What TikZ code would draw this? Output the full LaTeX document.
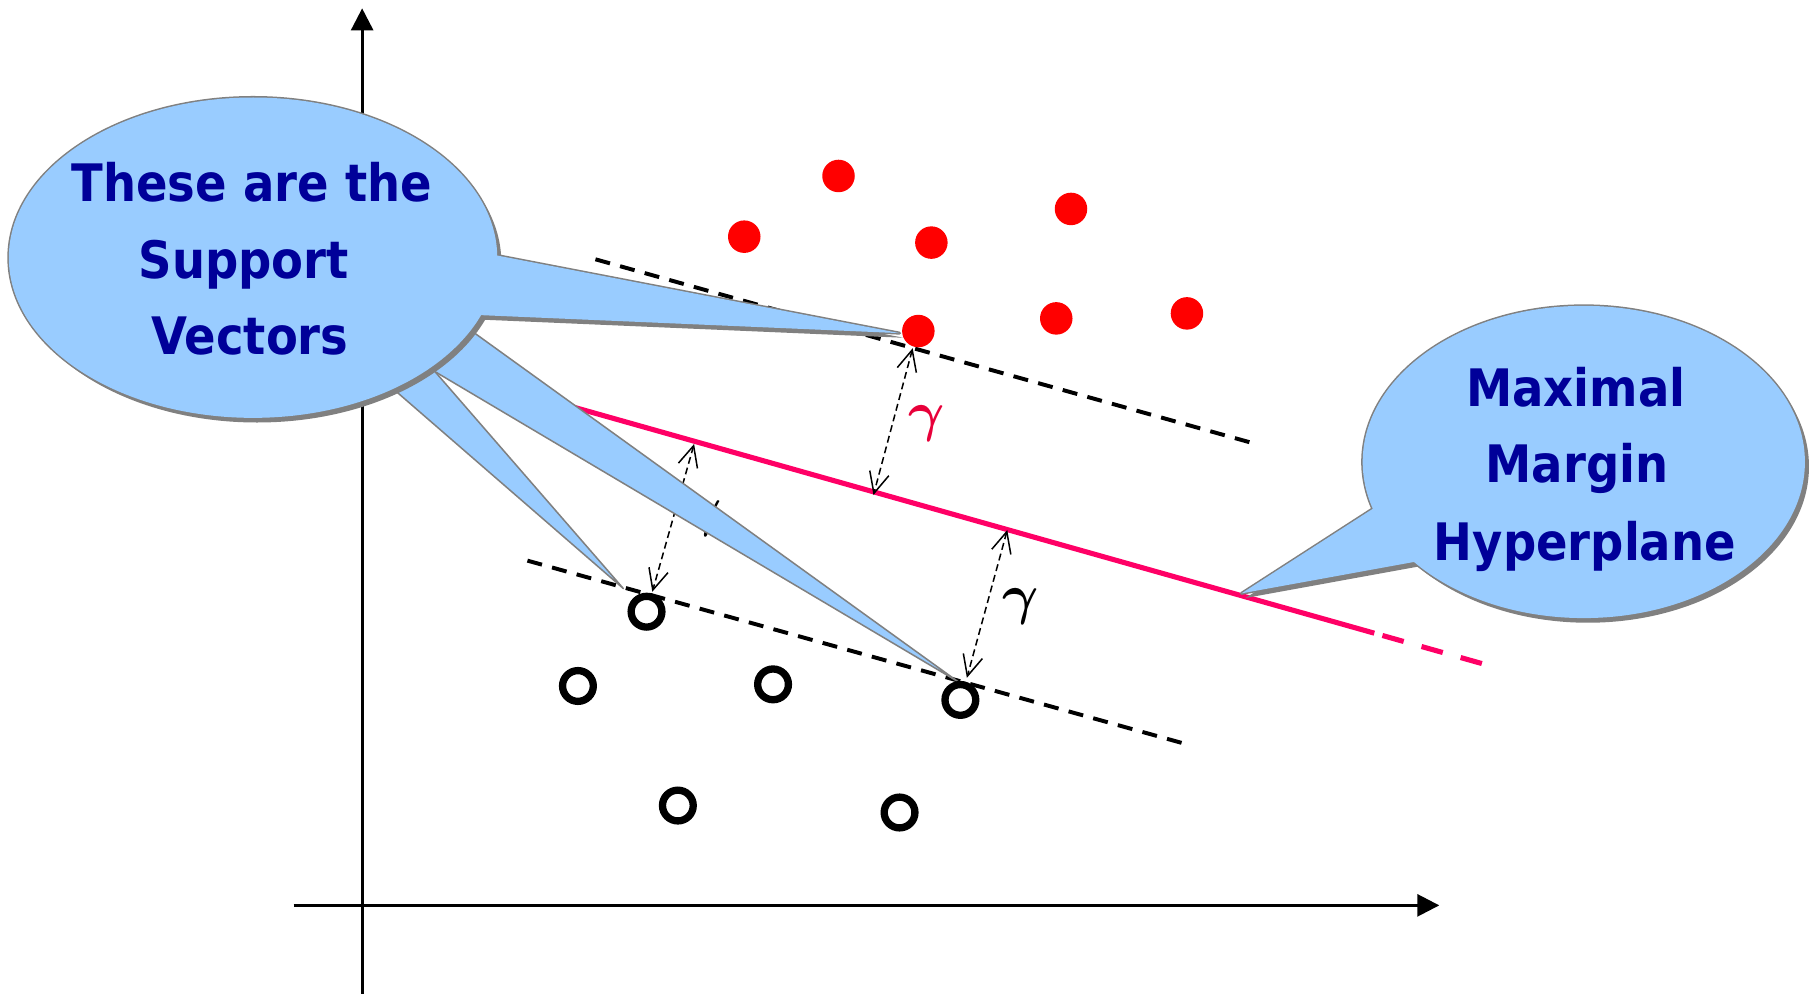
\documentclass[tikz,border=0pt]{standalone}
\usepackage{fontspec}
\setmainfont{DejaVu Sans Condensed}
\usetikzlibrary{arrows.meta,calc}
\definecolor{cofill}{HTML}{99CCFF}
\definecolor{coline}{HTML}{808080}
\definecolor{cotext}{HTML}{000099}
\definecolor{hyper}{HTML}{FF0066}
\definecolor{dotred}{HTML}{FF0000}
\definecolor{gred}{HTML}{E8003A}
\tikzset{
  axisline/.style={line width=2.4pt, -{Triangle[length=19pt,width=19pt]}},
  marginline/.style={line width=3.4pt, dash pattern=on 13pt off 9pt},
  hyperline/.style={draw=hyper, line width=4.4pt},
  gaparrow/.style={line width=1.3pt, dash pattern=on 6pt off 3.5pt,
     {Straight Barb[length=18pt,width=17pt]}-{Straight Barb[length=18pt,width=17pt]}},
  gam/.style={font=\boldmath, scale=4.8, inner sep=0pt},
  posdot/.style={circle, fill=dotred, minimum size=28pt, inner sep=0pt},
  negring/.style={circle, draw=black, line width=6.3pt, minimum size=26.5pt, inner sep=0pt},
  wedgepart/.style={fill=cofill, draw=coline, line width=1.3pt, line join=round},
  coshadow/.style={fill=coline},
  coborder/.style={draw=coline, line width=2.6pt, line join=round},
  cobody/.style={fill=cofill},
  cotxt/.style={text=cotext, font=\bfseries\fontsize{44.5}{44.5}\selectfont, inner sep=0pt, anchor=base}
}
\begin{document}
\begin{tikzpicture}[x=1pt,y=-1pt]
\useasboundingbox (0,0) rectangle (1568,856);
\fill[white] (0,0) rectangle (1568,856);

% axes
\coordinate (yb) at (312,856); \coordinate (yt) at (312,7.2);
\coordinate (xl) at (253,780); \coordinate (xr) at (1240,780);
\draw[axisline] (yb) -- (yt);
\draw[axisline] (xl) -- (xr);

% margin lines
\coordinate (m1a) at (513,223.4); \coordinate (m1b) at (1076.6,381);
\coordinate (m2a) at (454.4,483); \coordinate (m2b) at (1018,640);
\draw[marginline] (m1a) -- (m1b);
\draw[marginline] (m2a) -- (m2b);

% hyperplane
\coordinate (h0) at (485,348.2); \coordinate (h1) at (1184,545.5);
\coordinate (h2) at (1191,547.5); \coordinate (h3) at (1280,572.6);
\draw[hyperline] (h0) -- (h1);
\draw[hyperline, dash pattern=on 19pt off 16pt] (h2) -- (h3);

% margin arrows
\coordinate (g1a) at (786.3,300); \coordinate (g1b) at (752.5,426.5);
\coordinate (g2a) at (598,382.5); \coordinate (g2b) at (562,509.8);
\coordinate (g3a) at (867.8,456.6); \coordinate (g3b) at (833,584);
\draw[gaparrow] (g1a) -- (g1b);
\draw[gaparrow] (g2a) -- (g2b);
\draw[gaparrow] (g3a) -- (g3b);
\node[gam, text=gred] (gam1) at (798.7,364.5) {$\gamma$};
\node[gam] (gam2) at (879.4,522.7) {$\gamma$};
\node[gam] (gam3) at (606,447) {$\gamma$};

% left callout
\coordinate (Lc) at (218,222);
\coordinate (w1t) at (775,287); \coordinate (w1a) at (426,219.7); \coordinate (w1b) at (412,271.4);
\coordinate (w2t) at (825.4,587.3); \coordinate (w2a) at (409.2,287.2); \coordinate (w2b) at (374.8,320.2);
\coordinate (w3t) at (537,507); \coordinate (w3a) at (374.8,320.2); \coordinate (w3b) at (343.2,338.9);
\coordinate (w1A) at ($(w1t)!1.08!(w1a)$); \coordinate (w1B) at ($(w1t)!1.08!(w1b)$);
\coordinate (w2A) at ($(w2t)!1.06!(w2a)$); \coordinate (w2B) at ($(w2t)!1.06!(w2b)$);
\coordinate (w3A) at ($(w3t)!1.15!(w3a)$); \coordinate (w3B) at ($(w3t)!1.15!(w3b)$);

\path[wedgepart] (w2A) -- (w2t) -- (w2B) -- cycle;
\path[wedgepart] (w3A) -- (w3t) -- (w3B) -- cycle;

\begin{scope}[transform canvas={shift={(3.5pt,-4pt)}}]
  \fill[coshadow] (Lc) ellipse[x radius=210.4pt, y radius=138pt];
  \fill[coshadow] (w1A) -- (w1t) -- (w1B) -- cycle;
\end{scope}
\draw[coborder] (Lc) ellipse[x radius=210.4pt, y radius=138pt];
\draw[coborder] (w1A) -- (w1t) -- (w1B) -- cycle;
\fill[cobody] (Lc) ellipse[x radius=210.4pt, y radius=138pt];
\fill[cobody] (w1A) -- (w1t) -- (w1B) -- cycle;

\node[cotxt] (l1) at (217,173.7) {These are the};
\node[cotxt] (l2) at (210,239.7) {Support};
\node[cotxt] (l3) at (215.5,305.8) {Vectors};

% right callout
\coordinate (Rc) at (1364.5,398);
\coordinate (r1t) at (1069.6,511.2); \coordinate (r1a) at (1183.2,438); \coordinate (r1b) at (1219,484);
\coordinate (r1A) at ($(r1t)!1.1!(r1a)$); \coordinate (r1B) at ($(r1t)!1.1!(r1b)$);
\begin{scope}[transform canvas={shift={(3.5pt,-4pt)}}]
  \fill[coshadow] (Rc) ellipse[x radius=190.5pt, y radius=134.5pt];
  \fill[coshadow] (r1A) -- (r1t) -- (r1B) -- cycle;
\end{scope}
\draw[coborder] (Rc) ellipse[x radius=190.5pt, y radius=134.5pt];
\draw[coborder] (r1A) -- (r1t) -- (r1B) -- cycle;
\fill[cobody] (Rc) ellipse[x radius=190.5pt, y radius=134.5pt];
\fill[cobody] (r1A) -- (r1t) -- (r1B) -- cycle;

\node[cotxt] (r1) at (1357.6,350.4) {Maximal};
\node[cotxt] (r2) at (1358.6,415.8) {Margin};
\node[cotxt] (r3) at (1365.5,482.5) {Hyperplane};

% data points
\node[posdot] (p1) at (722.4,151.6) {};
\node[posdot] (p2) at (641.2,203.9) {};
\node[posdot] (p3) at (802.4,209) {};
\node[posdot] (p4) at (922.7,180) {};
\node[posdot] (p5) at (791.2,285.2) {};
\node[posdot] (p6) at (910,274.3) {};
\node[posdot] (p7) at (1022.6,270) {};
\node[negring] (n1) at (557,527) {};
\node[negring] (n2) at (497.9,591) {};
\node[negring] (n3) at (666,589.6) {};
\node[negring] (n4) at (827.4,603) {};
\node[negring] (n5) at (584,694) {};
\node[negring] (n6) at (775,700) {};
\end{tikzpicture}
\end{document}
